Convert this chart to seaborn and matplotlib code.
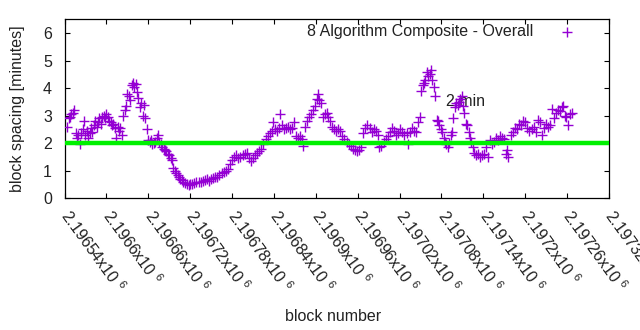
import matplotlib
matplotlib.use("Agg")
import matplotlib.pyplot as plt
import seaborn as sns
import pandas as pd

# ---- data ----
blocks = [
    2196544, 2196546, 2196548, 2196550, 2196552, 2196554, 2196556, 2196558, 2196560, 2196562,
    2196564, 2196566, 2196568, 2196570, 2196572, 2196574, 2196576, 2196578, 2196580, 2196582,
    2196584, 2196586, 2196588, 2196590, 2196592, 2196594, 2196596, 2196598, 2196600, 2196602,
    2196604, 2196606, 2196608, 2196610, 2196612, 2196614, 2196616, 2196618, 2196620, 2196622,
    2196624, 2196626, 2196628, 2196630, 2196632, 2196634, 2196636, 2196638, 2196640, 2196642,
    2196644, 2196646, 2196648, 2196650, 2196652, 2196654, 2196656, 2196658, 2196660, 2196662,
    2196664, 2196666, 2196668, 2196670, 2196672, 2196674, 2196676, 2196678, 2196680, 2196682,
    2196684, 2196686, 2196688, 2196690, 2196692, 2196694, 2196696, 2196698, 2196700, 2196702,
    2196704, 2196706, 2196708, 2196710, 2196712, 2196715, 2196718, 2196720, 2196723, 2196726,
    2196729, 2196732, 2196735, 2196738, 2196741, 2196744, 2196747, 2196750, 2196753, 2196756,
    2196759, 2196762, 2196765, 2196768, 2196771, 2196774, 2196777, 2196780, 2196783, 2196786,
    2196789, 2196792, 2196795, 2196798, 2196801, 2196804, 2196807, 2196810, 2196813, 2196816,
    2196819, 2196822, 2196825, 2196828, 2196831, 2196834, 2196837, 2196839, 2196841, 2196844,
    2196847, 2196849, 2196851, 2196854, 2196857, 2196860, 2196863, 2196866, 2196869, 2196872,
    2196875, 2196878, 2196880, 2196882, 2196885, 2196887, 2196890, 2196893, 2196896, 2196899,
    2196902, 2196903, 2196905, 2196907, 2196910, 2196913, 2196916, 2196918, 2196920, 2196923,
    2196926, 2196929, 2196932, 2196935, 2196938, 2196941, 2196944, 2196947, 2196950, 2196953,
    2196956, 2196959, 2196962, 2196965, 2196968, 2196971, 2196974, 2196977, 2196980, 2196983,
    2196986, 2196989, 2196991, 2196994, 2196997, 2197000, 2197003, 2197006, 2197009, 2197012,
    2197015, 2197018, 2197021, 2197024, 2197027, 2197030, 2197032, 2197035, 2197038, 2197041,
    2197044, 2197046, 2197049, 2197051, 2197053, 2197055, 2197057, 2197059, 2197061, 2197063,
    2197065, 2197067, 2197069, 2197071, 2197073, 2197075, 2197077, 2197079, 2197081, 2197083,
    2197085, 2197087, 2197089, 2197091, 2197093, 2197095, 2197097, 2197099, 2197101, 2197103,
    2197105, 2197107, 2197109, 2197111, 2197113, 2197115, 2197117, 2197119, 2197121, 2197123,
    2197125, 2197127, 2197129, 2197132, 2197135, 2197138, 2197141, 2197144, 2197146, 2197149,
    2197152, 2197155, 2197158, 2197161, 2197164, 2197167, 2197170, 2197172, 2197174, 2197176,
    2197179, 2197182, 2197185, 2197188, 2197191, 2197194, 2197197, 2197200, 2197203, 2197206,
    2197209, 2197212, 2197215, 2197218, 2197221, 2197224, 2197227, 2197230, 2197233, 2197236,
    2197238, 2197241, 2197244, 2197247, 2197250, 2197252, 2197254, 2197257, 2197259, 2197261,
    2197264, 2197267,
]
spacing_min = [
    2.60, 2.90, 2.95, 3.05, 3.10, 3.20, 2.35, 2.20, 2.30, 1.95,
    2.35, 2.50, 2.80, 2.30, 2.45, 2.20, 2.35, 2.55, 2.40, 2.65,
    2.80, 2.60, 2.75, 2.90, 2.70, 2.95, 3.00, 2.90, 3.05, 2.95,
    2.80, 2.75, 2.65, 2.70, 2.55, 2.20, 2.60, 2.45, 2.55, 2.30,
    3.00, 3.20, 3.35, 3.80, 3.70, 3.55, 4.10, 4.20, 4.05, 4.15,
    3.85, 3.65, 3.30, 3.45, 3.00, 3.40, 2.90, 2.50, 2.10, 2.05,
    2.10, 1.95, 2.00, 2.05, 2.20, 2.30, 2.05, 1.95, 1.85, 1.80,
    1.75, 1.70, 1.60, 1.55, 1.45, 1.40, 1.10, 1.00, 0.90, 0.85,
    0.75, 0.70, 0.65, 0.60, 0.55, 0.50, 0.48, 0.52, 0.50, 0.55,
    0.58, 0.60, 0.57, 0.62, 0.65, 0.68, 0.62, 0.70, 0.72, 0.75,
    0.78, 0.85, 0.90, 0.95, 1.00, 1.05, 1.25, 1.40, 1.50, 1.55,
    1.45, 1.50, 1.55, 1.60, 1.65, 1.45, 1.35, 1.45, 1.55, 1.65,
    1.70, 1.80, 1.95, 2.15, 2.25, 2.35, 2.45, 2.75, 2.50, 2.45,
    2.55, 3.05, 2.65, 2.50, 2.55, 2.60, 2.50, 2.55, 2.75, 2.25,
    2.20, 2.25, 2.15, 1.90, 2.60, 2.80, 2.95, 3.05, 3.20, 3.35,
    3.60, 3.80, 3.55, 3.45, 2.95, 3.05, 3.10, 2.95, 2.80, 2.60,
    2.50, 2.45, 2.50, 2.45, 2.25, 2.15, 2.05, 1.95, 1.90, 1.80,
    1.75, 1.70, 1.75, 1.85, 2.35, 2.55, 2.65, 2.55, 2.40, 2.50,
    2.45, 2.30, 1.85, 1.90, 2.05, 2.15, 2.25, 2.40, 2.55, 2.45,
    2.30, 2.35, 2.50, 2.40, 2.30, 2.35, 1.95, 2.40, 2.55, 2.45,
    2.40, 2.75, 2.95, 3.90, 4.10, 4.20, 4.30, 4.60, 4.45, 4.50,
    4.65, 4.30, 4.05, 3.70, 2.85, 2.80, 2.65, 2.50, 2.40, 2.20,
    2.05, 1.95, 1.85, 2.00, 2.30, 2.40, 2.90, 3.30, 3.45, 3.40,
    3.50, 3.60, 3.70, 3.35, 3.10, 2.70, 2.65, 2.40, 2.20, 2.05,
    1.85, 1.65, 1.55, 1.60, 1.50, 1.55, 1.60, 1.85, 1.50, 2.10,
    1.95, 2.05, 2.20, 2.10, 2.25, 2.20, 2.15, 1.60, 1.75, 1.50,
    2.30, 2.40, 2.55, 2.50, 2.70, 2.65, 2.80, 2.75, 2.55, 2.45,
    2.50, 2.60, 2.40, 2.85, 2.75, 2.30, 2.55, 2.70, 2.60, 2.65,
    3.25, 2.90, 3.10, 3.20, 3.15, 3.30, 3.35, 3.00, 2.95, 2.65,
    3.05, 3.10,
]
series_label = "8 Algorithm Composite - Overall"
target_minutes = 2
target_label = "2 min"
target_label_x = 2197086
target_label_y = 3.5

xtick_values = [2196540, 2196600, 2196660, 2196720, 2196780, 2196840, 2196900,
                2196960, 2197020, 2197080, 2197140, 2197200, 2197260, 2197320]
xtick_labels = ["2.19654", "2.1966", "2.19666", "2.19672", "2.19678", "2.19684", "2.1969",
                "2.19696", "2.19702", "2.19708", "2.19714", "2.1972", "2.19726", "2.19732"]
ytick_values = [0, 1, 2, 3, 4, 5, 6]
ytick_labels = ["0", "1", "2", "3", "4", "5", "6"]

# ---- styling ----
sns.set_style("white")
plt.rcParams["font.family"] = ["Liberation Sans", "DejaVu Sans"]
plt.rcParams["mathtext.fontset"] = "custom"
plt.rcParams["mathtext.rm"] = "Liberation Sans"
plt.rcParams["mathtext.default"] = "regular"
FS = 11.5
TXT = "#222222"

fig = plt.figure(figsize=(6.4, 3.3), dpi=100)
ax = fig.add_axes([64.5 / 640, 132 / 330, 544.5 / 640, 178.7 / 330])

df = pd.DataFrame({"block": blocks, "spacing": spacing_min})
sns.scatterplot(data=df, x="block", y="spacing", marker="+", color="#9400d3",
                s=46, linewidth=1.0, ax=ax, legend=False, zorder=3)

ax.axhline(target_minutes, color="#00f000", lw=3.2, zorder=4)
ax.text(target_label_x, target_label_y, target_label, fontsize=FS, color=TXT,
        ha="left", va="center", zorder=2)

ax.set_xlim(xtick_values[0], xtick_values[-1])
ax.set_ylim(0, 6.5)
ax.set_xticks(xtick_values)
ax.set_xticklabels([f"{v}x10 $^{{6}}$" for v in xtick_labels], rotation=-54,
                   rotation_mode="anchor", ha="left", va="center", fontsize=FS, color=TXT)
ax.set_yticks(ytick_values)
ax.set_yticklabels(ytick_labels, fontsize=FS, color=TXT)
ax.tick_params(axis="both", direction="in", length=3.4, width=0.8, color="black",
               top=True, right=True, bottom=True, left=True)
ax.tick_params(axis="y", pad=9)
ax.tick_params(axis="x", pad=10)
for sp in ax.spines.values():
    sp.set_visible(True)
    sp.set_color("black")
    sp.set_linewidth(0.9)

ax.set_xlabel("block number", fontsize=FS, color=TXT)
ax.set_ylabel("block spacing [minutes]", fontsize=FS, color=TXT)
ax.xaxis.set_label_coords(0.494, -0.62)
ax.yaxis.set_label_coords(-0.073, 0.5)

handles = [ax.collections[0]]
ax.legend(handles, [series_label], loc="center right", bbox_to_anchor=(0.952, 0.93),
          frameon=False, markerfirst=False, handlelength=2.0, handletextpad=1.13,
          borderpad=0, borderaxespad=0, fontsize=FS, scatterpoints=1,
          labelcolor=TXT)

fig.savefig("out.png", dpi=100)
